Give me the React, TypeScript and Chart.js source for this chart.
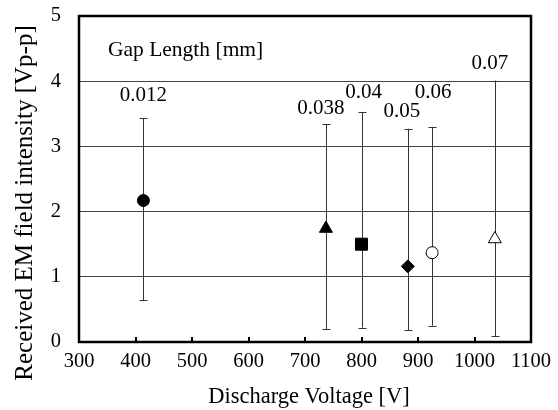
import React, { useEffect, useRef } from "react";
import { Chart, registerables } from "chart.js";

Chart.register(...registerables);

const gapLabels = ["0.012", "0.038", "0.04", "0.05", "0.06", "0.07"];
const voltages = [414, 737, 800, 882, 925, 1036];
const intensities = [2.17, 1.74, 1.5, 1.16, 1.37, 1.58];
const errHigh = [3.43, 3.34, 3.53, 3.27, 3.3, 4.01];
const errLow = [0.64, 0.2, 0.22, 0.18, 0.25, 0.09];
const xTicks = [300, 400, 500, 600, 700, 800, 900, 1000, 1100];
const yTicks = [0, 1, 2, 3, 4, 5];

const markerStyles = ["circle", "triangle", "rect", "rectRot", "circle", "triangle"];
const markerFilled = [true, true, true, true, false, false];
const markerRadius = [6, 7.5, 8.5, 6.5, 6, 7.5];
// label centre offsets (px) relative to the top of each error bar
const labelOffsets = [
  [0, -23],
  [-5, -16],
  [2, -19],
  [-6, -17],
  [1, -34],
  [-5, -17],
];

const FONT = "'Liberation Serif', 'Times New Roman', serif";

export default function App() {
  const ref = useRef<HTMLCanvasElement | null>(null);

  useEffect(() => {
    if (!ref.current) return;
    const overlay = {
      id: "overlay",
      afterDatasetsDraw(chart: any) {
        const ctx = chart.ctx;
        const xs = chart.scales.x;
        const ys = chart.scales.y;
        const a = chart.chartArea;
        ctx.save();
        ctx.strokeStyle = "#000";
        ctx.lineWidth = 2;
        xTicks.forEach((t) => {
          const px = Math.round(xs.getPixelForValue(t));
          ctx.beginPath();
          ctx.moveTo(px, a.bottom);
          ctx.lineTo(px, a.bottom - 5);
          ctx.stroke();
        });
        // frame
        ctx.lineWidth = 2.5;
        ctx.strokeRect(a.left, a.top, a.right - a.left, a.bottom - a.top);
        // legend title
        ctx.fillStyle = "#000";
        ctx.font = "21.5px " + FONT;
        ctx.textAlign = "left";
        ctx.textBaseline = "middle";
        ctx.fillText("Gap Length [mm]", a.left + 29, a.top + 34);
        // value labels
        ctx.textAlign = "center";
        ctx.font = "21px " + FONT;
        gapLabels.forEach((lab, i) => {
          const px = xs.getPixelForValue(voltages[i]);
          const py = ys.getPixelForValue(errHigh[i]);
          ctx.fillText(lab, px + labelOffsets[i][0], py + labelOffsets[i][1]);
        });
        // axis titles
        ctx.font = "22.5px " + FONT;
        ctx.fillText("Discharge Voltage [V]", 309, 397);
        ctx.font = "25px " + FONT;
        ctx.translate(25, 203);
        ctx.rotate(-Math.PI / 2);
        ctx.fillText("Received EM field intensity [Vp-p]", 0, 0);
        ctx.restore();
      },
      beforeDatasetsDraw(chart: any) {
        const ctx = chart.ctx;
        const xs = chart.scales.x;
        const ys = chart.scales.y;
        ctx.save();
        ctx.strokeStyle = "#333";
        ctx.lineWidth = 1;
        voltages.forEach((v, i) => {
          const px = Math.round(xs.getPixelForValue(v)) + 0.5;
          const hi = ys.getPixelForValue(errHigh[i]);
          const lo = ys.getPixelForValue(errLow[i]);
          ctx.beginPath();
          ctx.moveTo(px, hi);
          ctx.lineTo(px, lo);
          ctx.moveTo(px - 4, Math.round(hi) + 0.5);
          ctx.lineTo(px + 4, Math.round(hi) + 0.5);
          ctx.moveTo(px - 4, Math.round(lo) + 0.5);
          ctx.lineTo(px + 4, Math.round(lo) + 0.5);
          ctx.stroke();
        });
        ctx.restore();
      },
    };

    const datasets = voltages.map((v, i) => ({
      label: gapLabels[i],
      data: [{ x: v, y: intensities[i] }],
      pointStyle: markerStyles[i],
      pointRadius: markerRadius[i],
      backgroundColor: markerFilled[i] ? "#000" : "#fff",
      borderColor: "#000",
      borderWidth: 1,
    }));

    const chart = new Chart(ref.current, {
      type: "scatter",
      data: { datasets } as any,
      options: {
        animation: false,
        responsive: false,
        maintainAspectRatio: false,
        layout: { padding: { top: 16, right: 27, left: 0, bottom: 0 } },
        plugins: { legend: { display: false }, tooltip: { enabled: false } },
        scales: {
          x: {
            type: "linear",
            min: 300,
            max: 1100,
            afterBuildTicks: (s: any) => {
              s.ticks = xTicks.map((v) => ({ value: v }));
            },
            afterFit: (s: any) => {
              s.height = 68;
              s.paddingLeft = 0;
              s.paddingRight = 0;
            },
            grid: { display: false, drawTicks: false },
            border: { display: false },
            ticks: {
              color: "#000",
              font: { family: FONT, size: 20.5 },
              padding: 7,
              maxRotation: 0,
              callback: (v: any) => String(v),
            },
          },
          y: {
            type: "linear",
            min: 0,
            max: 5,
            afterBuildTicks: (s: any) => {
              s.ticks = yTicks.map((v) => ({ value: v }));
            },
            afterFit: (s: any) => {
              s.width = 79;
              s.paddingTop = 0;
              s.paddingBottom = 0;
            },
            grid: { color: "#444", lineWidth: 1, drawTicks: false },
            border: { display: false },
            ticks: {
              color: "#000",
              font: { family: FONT, size: 20.5 },
              padding: 18,
              callback: (v: any) => String(v),
            },
          },
        },
      } as any,
      plugins: [overlay],
    });
    return () => chart.destroy();
  }, []);

  return (
    <div style={{ position: "absolute", left: 0, top: 0, width: 558, height: 410, background: "#fff" }}>
      <canvas ref={ref} width={558} height={410} style={{ width: 558, height: 410 }} />
    </div>
  );
}
